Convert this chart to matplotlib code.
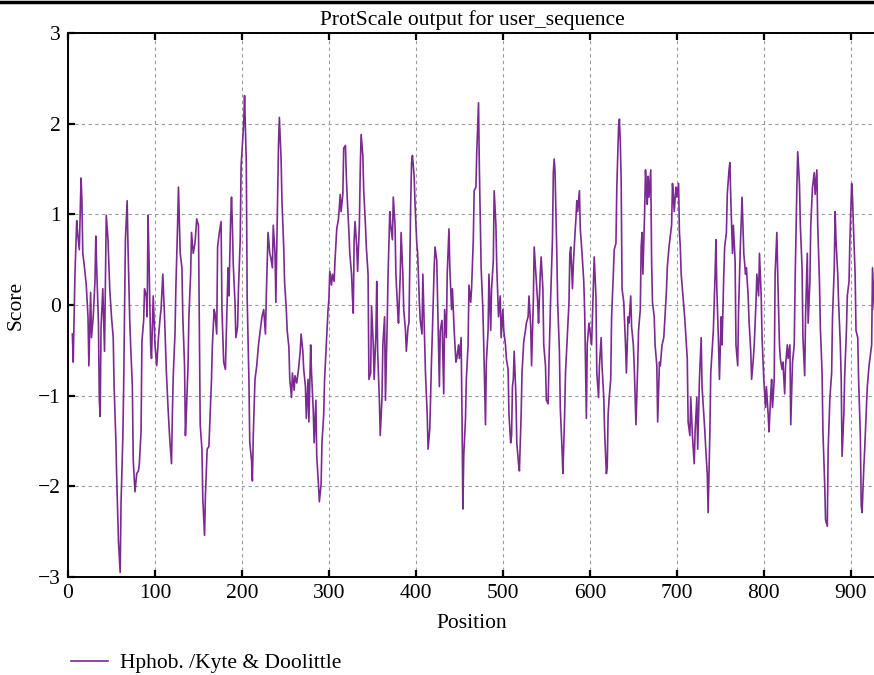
import matplotlib
matplotlib.use("Agg")
import matplotlib.pyplot as plt
from matplotlib.lines import Line2D

plt.rcParams['font.family'] = ['Liberation Serif', 'DejaVu Serif']
plt.rcParams['font.size'] = 15.5

title = "ProtScale output for user_sequence"
x_label = "Position"
y_label = "Score"
series_name = "Hphob. /Kyte & Doolittle"
x_ticks = [0, 100, 200, 300, 400, 500, 600, 700, 800, 900]
y_ticks = [-3, -2, -1, 0, 1, 2, 3]

positions = [
    5, 6, 8, 10, 11, 13, 15, 16, 17, 19, 21, 23, 24, 26, 27, 29, 31, 32, 33, 35,
    36, 37, 38, 40, 42, 44, 46, 48, 50, 52, 53, 55, 56, 58, 60, 61, 63, 64, 66, 68,
    69, 71, 72, 74, 75, 77, 79, 81, 82, 84, 85, 87, 88, 90, 91, 92, 93, 95,
    96, 98, 100, 102, 104, 106, 107, 109, 111, 113, 115, 117, 119, 120, 121, 123, 124, 126,
    127, 129, 131, 132, 134, 135, 136, 138, 139, 141, 142, 144, 146, 148, 150, 151, 152, 154,
    155, 157, 158, 160, 162, 163, 165, 166, 168, 169, 171, 172, 174, 176, 177, 179, 181, 182,
    184, 185, 187, 188, 189, 190, 192, 193, 195, 196, 198, 199, 201, 202, 203, 205, 206, 208,
    209, 211, 212,
    213, 215, 217, 219, 221, 223, 225, 227, 228, 230, 232, 233, 235, 236, 238, 239, 241, 242,
    243, 245, 246, 248, 249, 251, 252, 254, 255, 257, 258, 260, 261, 263, 265, 267, 268, 270,
    271, 273, 274, 276, 277, 279, 280, 282, 283, 285, 286, 288, 289, 291, 292, 294, 295, 297,
    299, 300,
    301, 303, 304, 306, 307, 309, 311, 313, 314, 316, 317, 319, 320, 321, 323, 324, 326, 327,
    328, 329, 330, 332, 333, 335, 336, 337, 339, 340, 342, 343, 345, 346, 348, 349, 351, 352,
    354, 355, 356, 358, 359, 361, 362, 364, 365, 367, 368, 370, 371, 373, 374, 376, 377, 379,
    380, 382, 383, 385, 386, 388, 389, 391, 392, 394, 395, 396, 398, 399, 401, 402, 404,
    405, 407, 408, 410, 411, 413, 414, 416, 418, 419, 421, 422, 424, 425, 427, 428, 430, 432,
    433, 435, 436, 438, 439, 441, 442, 444, 446, 447, 449, 450, 452, 453, 454, 455, 457, 458,
    460, 461, 463, 464, 466, 467, 469, 470, 472, 473, 475, 477, 478, 480, 481, 483, 484, 486,
    487, 489, 490, 492, 493, 495, 497, 498, 500, 501, 503, 504, 506, 507,
    509, 510, 511, 512, 513, 515, 516, 518, 519, 521, 522, 524, 526, 527, 529, 530, 532, 533,
    535, 536, 538, 540, 541, 543, 544, 546, 547, 549, 550, 552, 553, 555, 557, 558, 559, 560,
    562, 563, 565, 566, 568, 569, 571, 572, 574, 576, 577, 578, 580, 581, 583, 584, 585, 586,
    588, 589, 591, 593, 594, 596, 597, 599, 600, 602, 603, 605, 607, 608, 610, 611, 613,
    614, 616, 617, 619, 620, 621, 622, 624, 625, 627, 628, 630, 631, 633, 634, 635, 636, 637,
    639, 641, 642, 644, 645, 647, 648, 650, 651, 653, 655, 656, 658, 659, 660, 661, 663, 664,
    665, 666, 667, 668, 670, 671, 672, 674, 675, 677, 678, 680, 681, 683, 685, 686, 688, 689,
    691, 692, 694, 695, 696, 697, 699, 700, 702, 703, 704, 705, 707, 709, 710, 712, 713, 715,
    716,
    718, 720, 721, 723, 724, 726, 728, 729, 731, 732, 734, 735, 736, 738, 739, 741, 742, 744,
    745, 746, 748, 749, 751, 752, 754, 755, 757, 758, 760, 761, 762, 764, 765, 767, 768, 770,
    771, 773, 775, 776, 777, 779, 780, 782, 783, 785, 786, 788, 789, 791, 792, 794, 795, 797,
    798, 800, 802, 803, 805, 806, 808,
    809, 810, 812, 813, 815, 816, 818, 819, 821, 822, 824, 825, 827, 828, 830, 831, 833, 835,
    836, 838, 839, 841, 842, 844, 845, 847, 848, 850, 851, 853, 854, 856, 858, 859, 861, 862,
    864, 865, 867, 868, 870, 871, 873, 874, 876, 878, 879, 881, 882, 883, 885, 886, 888, 889,
    890, 892, 893, 895, 896, 898, 899, 901, 902, 903, 905, 906, 908, 909, 911, 912, 913, 915,
    916, 918, 919, 921, 922, 924, 925, 927,
]

scores = [
    -0.32, -0.63, 0.34, 0.93, 0.80, 0.61, 1.40, 1.15, 0.57, 0.41, 0.22, -0.13, -0.67, 0.14, -0.36, -0.13, 0.26, 0.76, 0.41, -0.20,
    -1.05, -1.23, -0.24, 0.18, -0.51, 0.99, 0.72, 0.18, -0.13, -0.36, -0.90, -1.48, -1.90, -2.60, -2.95, -2.17, -1.48, -0.90, 0.72, 1.15,
    0.64, -0.17, -0.44, -0.90, -1.71, -2.06, -1.86, -1.83, -1.75, -1.40, -0.40, -0.17, 0.18, 0.10, -0.13, 0.99, 0.57, -0.44,
    -0.59, 0.10, -0.44, -0.67, -0.36, -0.13, -0.05, 0.34, -0.13, -0.71, -1.13, -1.48, -1.75, -1.21, -0.78, -0.32, 0.18, 0.88,
    1.30, 0.57, 0.41, -0.13, -0.67, -1.44, -1.21, -0.67, -0.13, 0.34, 0.80, 0.57, 0.68, 0.95, 0.88, -0.17, -1.32, -1.59,
    -2.14, -2.54, -2.10, -1.59, -1.56, -1.32, -0.82, -0.44, -0.05, -0.09, -0.32, 0.64, 0.80, 0.92, -0.05, -0.63, -0.71, -0.32,
    0.41, 0.10, 0.95, 1.19, 0.88, 0.45, 0.03, -0.36, -0.24, 0.18, 0.72, 1.53, 1.84, 2.00, 2.31, 1.57, 0.07, -0.82,
    -1.52, -1.71, -1.94,
    -1.44, -0.82, -0.67, -0.44, -0.28, -0.13, -0.05, -0.32, 0.10, 0.80, 0.57, 0.53, 0.41, 0.88, 0.57, 0.03, 1.19, 1.76,
    2.07, 1.61, 1.15, 0.64, 0.26, -0.05, -0.28, -0.47, -0.82, -1.02, -0.75, -0.94, -0.78, -0.86, -0.71, -0.51, -0.32, -0.51,
    -0.71, -0.90, -1.25, -0.82, -1.29, -0.44, -0.75, -1.17, -1.52, -1.05, -1.67, -1.98, -2.17, -1.98, -1.52, -1.21, -0.82, -0.44,
    -0.05, 0.07,
    0.37, 0.22, 0.34, 0.26, 0.49, 0.84, 0.95, 1.22, 1.03, 1.22, 1.73, 1.76, 1.42, 1.19, 0.80, 0.57, 0.34, 0.10,
    -0.09, 0.72, 0.92, 0.64, 0.37, 0.88, 1.49, 1.88, 1.65, 1.26, 0.88, 0.64, 0.34, -0.82, -0.75, -0.01, -0.44, -0.82,
    -0.32, 0.26, -0.51, -1.05, -1.44, -1.02, -0.44, -0.13, -1.05, -0.20, 0.34, 1.03, 0.88, 0.72, 1.19, 0.88, 0.34, -0.05,
    -0.20, 0.34, 0.80, 0.34, -0.05, -0.28, -0.51, -0.24, -0.20, 1.11, 1.57, 1.65, 1.42, 1.11, 0.68, 0.57, 0.03,
    -0.17, -0.32, 0.34, -0.36, -0.75, -1.21, -1.59, -1.36, -0.59, -0.28, 0.41, 0.64, 0.49, 0.03, -0.90, -0.28, -0.17, -0.98,
    -0.05, -0.36, 0.34, 0.84, 0.41, -0.05, 0.18, -0.28, -0.63, -0.59, -0.44, -0.59, -0.36, -1.21, -2.25, -1.67, -1.25, -0.82,
    -0.44, 0.22, 0.03, 0.18, 0.72, 1.26, 1.30, 1.69, 2.23, 1.49, 0.41, -0.05, -0.44, -1.32, -0.63, -0.28, 0.34, -0.28,
    0.18, 0.49, 1.26, 0.88, 0.41, -0.13, 0.10, -0.36, -0.05, -0.28, -0.44, -0.59, -0.71, -1.21,
    -1.52, -1.44, -0.90, -0.82, -0.51, -1.00, -1.52, -1.75, -1.83, -1.21, -0.75, -0.40, -0.28, -0.20, -0.13, 0.10, -0.24, -0.67,
    0.03, 0.64, 0.34, 0.03, -0.20, 0.34, 0.53, 0.18, -0.44, -0.67, -1.05, -1.09, -0.63, 0.10, 0.72, 1.46, 1.61, 1.46,
    0.57, 0.03, -0.51, -1.13, -1.59, -1.86, -1.21, -0.75, -0.36, 0.03, 0.57, 0.64, 0.18, 0.45, 0.80, 0.95, 1.15, 1.03,
    1.26, 0.84, 0.57, 0.26, -0.05, -1.25, -0.44, -0.20, -0.28, -0.44, -0.13, 0.53, 0.10, -0.75, -1.02, -0.67, -0.36,
    -0.67, -1.02, -1.40, -1.86, -1.79, -1.21, -1.05, -0.82, -0.13, 0.34, 0.61, 0.68, 1.30, 1.96, 2.05, 1.80, 1.38, 0.18,
    0.03, -0.44, -0.75, -0.13, -0.20, 0.10, -0.24, -0.44, -0.67, -1.32, -0.67, -0.28, -0.05, 0.64, 0.80, 0.34, 1.03, 1.49,
    1.26, 1.11, 1.42, 1.19, 1.49, 0.49, 0.03, -0.13, -0.44, -0.67, -1.29, -0.63, -0.67, -0.44, -0.36, -0.20, 0.14, 0.41,
    0.64, 0.72, 0.88, 1.34, 1.22, 1.03, 1.30, 1.19, 1.34, 0.80, 0.64, 0.34, 0.10, -0.13, -0.28, -0.59, -1.29, -1.44,
    -1.02,
    -1.45, -1.75, -1.40, -1.02, -1.59, -0.82, -0.36, -0.90, -1.21, -1.36, -1.71, -1.86, -2.29, -1.40, -0.75, -0.44, -0.28, 0.34,
    0.72, 0.18, -0.44, -0.82, -0.13, -0.44, 0.34, 0.64, 0.80, 1.22, 1.49, 1.57, 1.19, 0.57, 0.88, 0.49, -0.44, -0.67,
    -0.05, 0.64, 1.19, 0.88, 0.57, 0.34, 0.41, 0.10, -0.17, -0.51, -0.82, -0.59, -0.44, 0.03, 0.34, 0.10, 0.57, 0.10,
    -0.36, -0.82, -1.13, -0.90, -1.21, -1.40, -0.98,
    -0.82, -1.13, -0.82, 0.34, 0.80, 0.34, -0.44, -0.59, -0.71, -0.63, -0.98, -0.67, -0.44, -0.59, -0.44, -1.32, -0.63, -0.44,
    0.26, 1.30, 1.69, 1.34, 0.88, 0.41, -0.36, -0.78, -0.13, 0.57, -0.20, 0.26, 0.88, 1.30, 1.46, 1.22, 1.49, 0.88,
    0.26, -0.24, -0.75, -1.40, -1.98, -2.37, -2.44, -1.59, -1.02, -0.75, -0.13, 0.41, 1.03, 0.72, 0.34, 0.03, -0.44, -0.82,
    -1.67, -1.21, -0.78, -0.28, 0.10, 0.26, 0.72, 1.34, 1.19, 0.88, 0.34, -0.28, -0.36, -0.82, -1.44, -2.21, -2.29, -1.79,
    -1.59, -1.13, -0.90, -0.67, -0.59, -0.44, 0.41, -0.05,
]

line_color = '#7a2a90'

fig = plt.figure(figsize=(8.74, 6.75), dpi=100)
# axes extend slightly past the right edge of the figure, as in the reference (right spine cut off)
ax = fig.add_axes([68 / 874, 1 - 577 / 675, 808 / 874, 544 / 675])

ax.plot(positions, scores, color=line_color, lw=1.2, label=series_name, zorder=3)

ax.set_xlim(0, 929)
ax.set_ylim(-3, 3)
ax.set_xticks(x_ticks)
ax.set_yticks(y_ticks)
ax.set_axisbelow(True)
ax.grid(True, color='#9a9a9a', lw=0.8, linestyle=(0, (3, 3)))
ax.tick_params(direction='in', top=True, right=False, length=5, width=1.6,
               labelsize=15.5, pad=5, colors='black')
for sp in ax.spines.values():
    sp.set_linewidth(1.4)
    sp.set_color('black')
ax.spines['right'].set_visible(False)

ax.set_title(title, fontsize=15.5, pad=6)
ax.set_xlabel(x_label, fontsize=15.5, labelpad=8)
ax.set_ylabel(y_label, fontsize=15.5, labelpad=9)

fig.add_artist(Line2D([0, 1], [1 - 2 / 675, 1 - 2 / 675], color='black', lw=2.5))

handles, labels = ax.get_legend_handles_labels()
fig.legend(handles, labels, loc='center left', bbox_to_anchor=(52 / 874, 1 - 663 / 675),
           frameon=False, fontsize=15.5, handlelength=1.7, handletextpad=0.55)

fig.savefig("out.png", dpi=100)
